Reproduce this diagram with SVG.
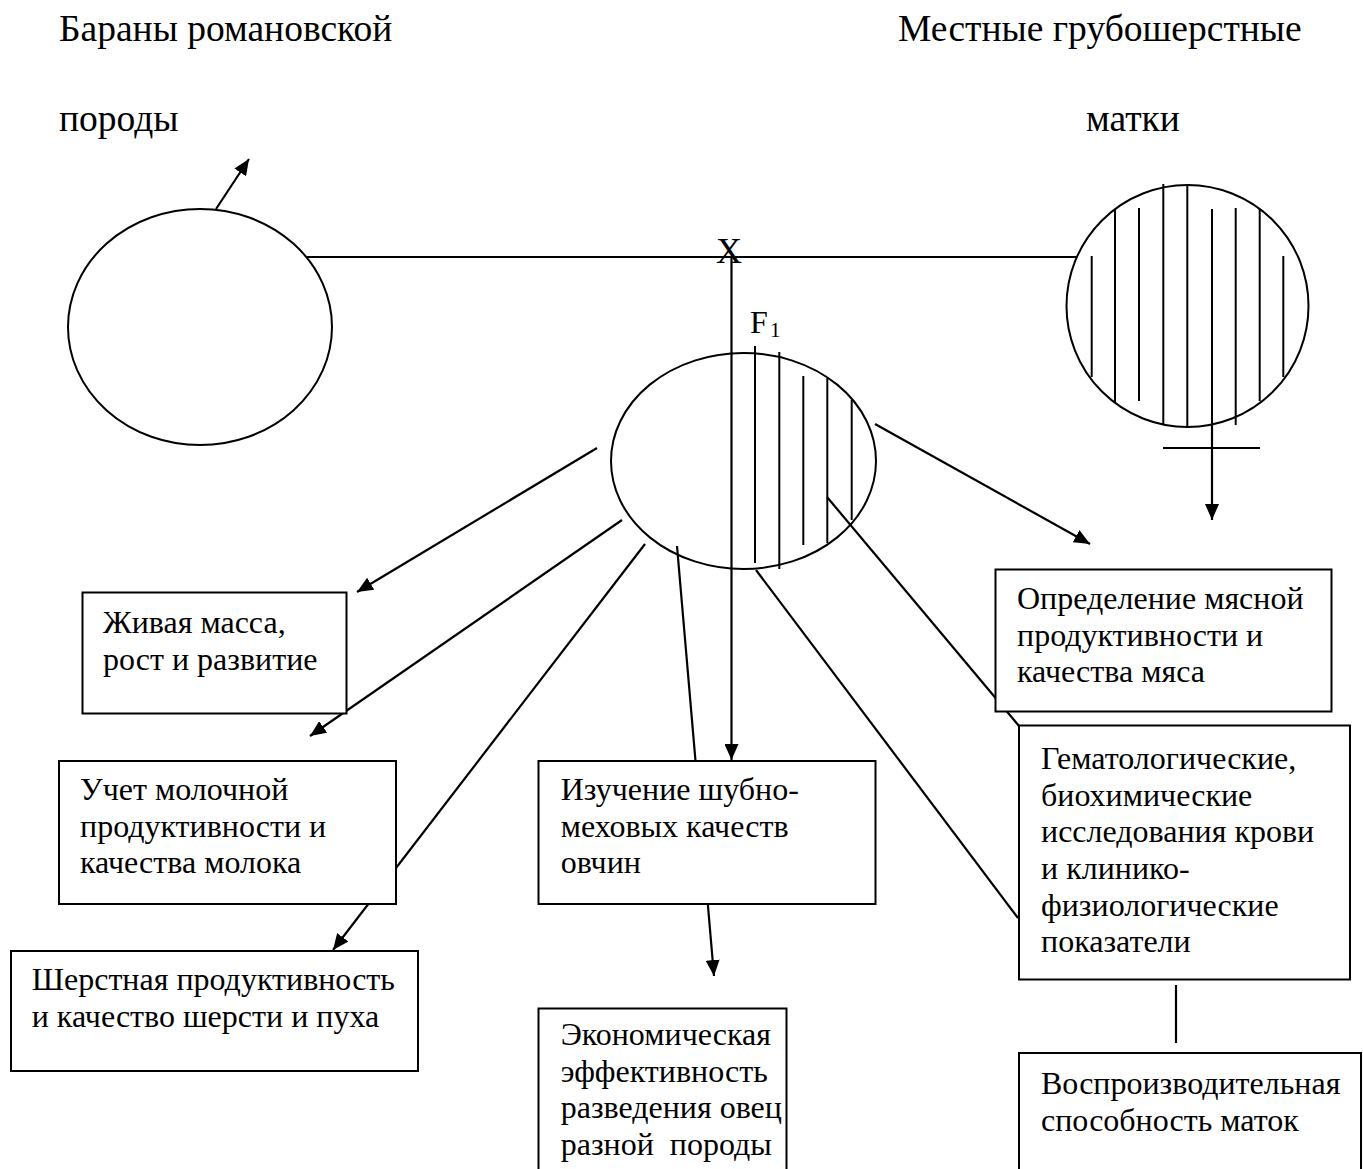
<svg xmlns="http://www.w3.org/2000/svg" width="1363" height="1169" viewBox="0 0 1363 1169">
<style>
  text { font-family: "Liberation Serif", "Times New Roman", serif; font-size: 32px; fill: #000; }
  .title { font-size: 37.5px; }
  .box { fill: #fff; stroke: #000; stroke-width: 2; }
  .shape { fill: none; stroke: #000; stroke-width: 2; }
  .hatch { stroke: #000; stroke-width: 2; fill: none; }
  .conn { stroke: #000; stroke-width: 2.2; fill: none; }
  .arr { marker-end: url(#ah); }
</style>
<defs>
  <marker id="ah" viewBox="0 0 16 14" refX="16" refY="7" markerWidth="16" markerHeight="14" markerUnits="userSpaceOnUse" orient="auto">
    <path d="M0,0 L16,7 L0,14 z" fill="#000"/>
  </marker>
</defs>
<rect width="1363" height="1169" fill="#fff"/>

<g id="title-rams">
  <text class="title" x="59" y="41">Бараны романовской</text>
  <text class="title" x="59" y="131">породы</text>
</g>
<g id="title-ewes">
  <text class="title" x="898" y="41">Местные грубошерстные</text>
  <text class="title" x="1086" y="131">матки</text>
</g>

<g id="connectors">
  <line class="conn" x1="307" y1="257" x2="1077" y2="257"/>
  <line class="conn arr" x1="216" y1="209" x2="249" y2="159"/>
  <line class="conn arr" x1="731.5" y1="257" x2="731.5" y2="760"/>
  <line class="conn arr" x1="597" y1="448" x2="357" y2="592"/>
  <line class="conn arr" x1="622" y1="520" x2="310" y2="736"/>
  <line class="conn arr" x1="645" y1="544" x2="333" y2="950"/>
  <line class="conn arr" x1="677" y1="546" x2="714" y2="976"/>
  <line class="conn" x1="756" y1="570" x2="1018" y2="918"/>
  <line class="conn" x1="827" y1="497" x2="1019" y2="726"/>
  <line class="conn arr" x1="875" y1="424" x2="1090" y2="544"/>
  <line class="conn arr" x1="1212" y1="426" x2="1212" y2="520"/>
  <line class="conn" x1="1176" y1="985" x2="1176" y2="1043"/>
</g>

<g id="node-rams">
  <ellipse class="shape" cx="200" cy="327" rx="132" ry="118"/>
</g>

<g id="node-cross">
  <text x="716" y="263" style="font-size:36px">X</text>
</g>

<g id="node-ewes">
  <circle class="shape" cx="1187.5" cy="306" r="121"/>
  <line class="hatch" x1="1091.7" y1="256" x2="1091.7" y2="377"/>
  <line class="hatch" x1="1115" y1="209" x2="1115" y2="402"/>
  <line class="hatch" x1="1139" y1="208" x2="1139" y2="401"/>
  <line class="hatch" x1="1163.3" y1="184" x2="1163.3" y2="424"/>
  <line class="hatch" x1="1187.3" y1="185" x2="1187.3" y2="426"/>
  <line class="hatch" x1="1212" y1="209" x2="1212" y2="426"/>
  <line class="hatch" x1="1235.7" y1="208" x2="1235.7" y2="425"/>
  <line class="hatch" x1="1259.7" y1="209" x2="1259.7" y2="401"/>
  <line class="hatch" x1="1283.3" y1="256" x2="1283.3" y2="377"/>
  <line class="hatch" x1="1163" y1="448" x2="1260" y2="448"/>
</g>

<g id="node-f1">
  <ellipse class="shape" cx="743.5" cy="461" rx="132.5" ry="108"/>
  <line class="hatch" x1="755" y1="346" x2="755" y2="563"/>
  <line class="hatch" x1="779.3" y1="352" x2="779.3" y2="569"/>
  <line class="hatch" x1="803.3" y1="376" x2="803.3" y2="545"/>
  <line class="hatch" x1="827.3" y1="378" x2="827.3" y2="543"/>
  <line class="hatch" x1="851.7" y1="400" x2="851.7" y2="520"/>
  <text x="750" y="333">F<tspan x="770" y="337" style="font-size:21px">1</tspan></text>
</g>

<g id="node-live-weight">
  <rect class="box" x="82.5" y="592.5" width="264" height="121"/>
  <text x="103" y="633">Живая масса,</text>
  <text x="103" y="670">рост и развитие</text>
</g>

<g id="node-milk">
  <rect class="box" x="59" y="761" width="337" height="143"/>
  <text x="80" y="800">Учет молочной</text>
  <text x="80" y="836.7">продуктивности и</text>
  <text x="80" y="873.3">качества молока</text>
</g>

<g id="node-wool">
  <rect class="box" x="11" y="951" width="407" height="120"/>
  <text x="31.7" y="990">Шерстная продуктивность</text>
  <text x="31.7" y="1026.7">и качество шерсти и пуха</text>
</g>

<g id="node-fur">
  <rect class="box" x="538.5" y="761" width="337" height="143"/>
  <text x="560.7" y="800">Изучение шубно-</text>
  <text x="560.7" y="836.7">меховых качеств</text>
  <text x="560.7" y="873.3">овчин</text>
</g>

<g id="node-economic">
  <rect class="box" x="538.5" y="1008.5" width="248" height="180"/>
  <text x="560.7" y="1045">Экономическая</text>
  <text x="560.7" y="1081.7">эффективность</text>
  <text x="560.7" y="1118.3">разведения овец</text>
  <text x="560.7" y="1155" xml:space="preserve">разной  породы</text>
</g>

<g id="node-meat">
  <rect class="box" x="995.5" y="569.5" width="336" height="142"/>
  <text x="1017" y="609">Определение мясной</text>
  <text x="1017" y="645.5">продуктивности и</text>
  <text x="1017" y="682">качества мяса</text>
</g>

<g id="node-blood">
  <rect class="box" x="1019" y="725.5" width="331" height="254"/>
  <text x="1041" y="769">Гематологические,</text>
  <text x="1041" y="805.7">биохимические</text>
  <text x="1041" y="842.3">исследования крови</text>
  <text x="1041" y="879">и клинико-</text>
  <text x="1041" y="915.7">физиологические</text>
  <text x="1041" y="952.3">показатели</text>
</g>

<g id="node-reproduction">
  <rect class="box" x="1019" y="1053" width="342" height="140"/>
  <text x="1041" y="1094">Воспроизводительная</text>
  <text x="1041" y="1130.7">способность маток</text>
</g>
</svg>
